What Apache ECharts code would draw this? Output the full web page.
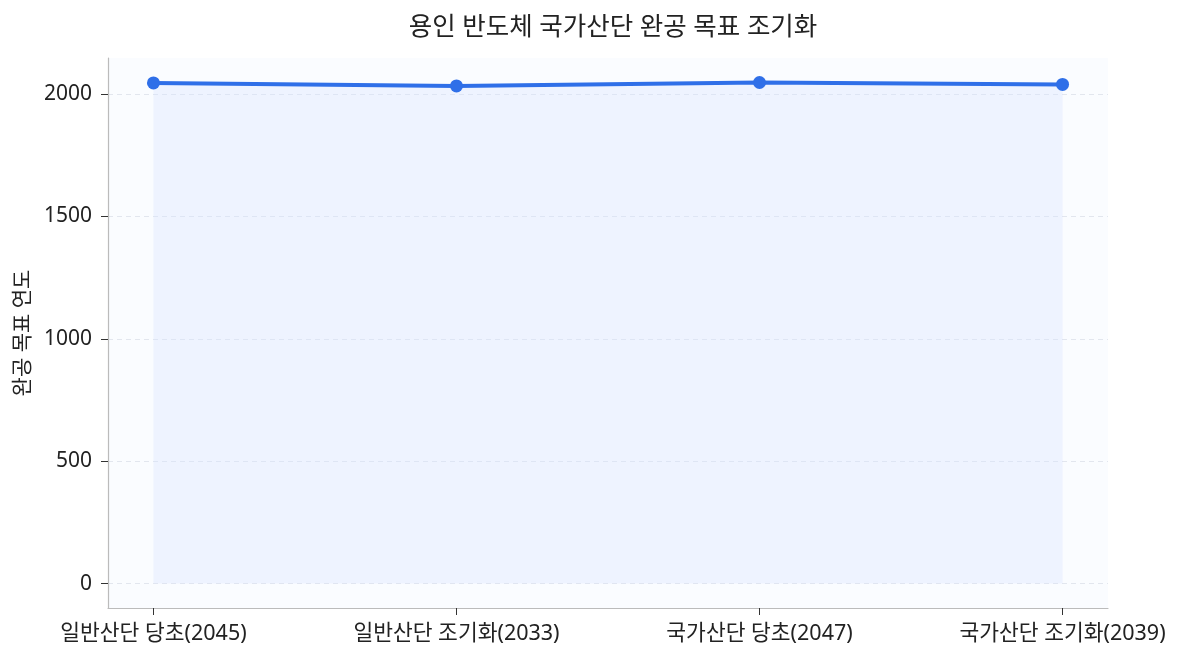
<!DOCTYPE html>
<html><head><meta charset="utf-8">
<script src="https://cdn.jsdelivr.net/npm/echarts@6/dist/echarts.min.js"></script>
<style>html,body{margin:0;padding:0;background:#fff}#c{width:1181px;height:660px}</style>
</head><body><div id="c"></div>
<script>
const categories = ['일반산단 당초(2045)', '일반산단 조기화(2033)', '국가산단 당초(2047)', '국가산단 조기화(2039)'];
const values = [2045, 2033, 2047, 2039];
const yTicks = [0, 500, 1000, 1500, 2000];
const title = '용인 반도체 국가산단 완공 목표 조기화';
const yName = '완공 목표 연도';

const font = '"Noto Sans", "Noto Sans CJK KR", sans-serif';
const idx = categories.map((_, i) => i);
const chart = echarts.init(document.getElementById('c'));
chart.setOption({
  animation: false,
  backgroundColor: '#ffffff',
  title: { text: title, left: 608, textAlign: 'center', top: 10, textStyle: { fontFamily: font, fontSize: 25.5, fontWeight: 'normal', color: '#222' } },
  grid: { left: 108, right: 73, top: 58, bottom: 52, show: true, backgroundColor: '#fafcff', borderWidth: 0 },
  xAxis: {
    type: 'value', min: -0.15, max: idx.length - 1 + 0.15,
    axisLine: { show: true, onZero: false, lineStyle: { color: '#bbbbbb', width: 1.2 } },
    axisTick: { show: true, customValues: idx, length: 7, lineStyle: { color: '#333' } },
    axisLabel: { customValues: idx, formatter: v => categories[Math.round(v)] || '', fontFamily: font, fontSize: 21.5, color: '#222', margin: 15 },
    splitLine: { show: false }
  },
  yAxis: {
    type: 'value', min: -100, max: 2147,
    name: yName, nameLocation: 'middle', nameGap: 72, nameRotate: 90,
    nameTextStyle: { fontFamily: font, fontSize: 21, color: '#222' },
    axisLine: { show: true, onZero: false, lineStyle: { color: '#bbbbbb', width: 1.2 } },
    axisTick: { show: true, customValues: yTicks, length: 7, lineStyle: { color: '#333' } },
    axisLabel: { customValues: yTicks, formatter: v => String(v), fontFamily: font, fontSize: 21, color: '#222', margin: 16 },
    splitLine: { show: true, lineStyle: { color: '#e2e6ee', type: [5, 4], width: 1 } }
  },
  series: [{
    type: 'line',
    data: idx.map(i => [i, values[i]]),
    symbol: 'circle', symbolSize: 13,
    itemStyle: { color: '#2f6fe8' },
    lineStyle: { color: '#2f6fe8', width: 4 },
    areaStyle: { color: 'rgba(214,228,255,0.5)', origin: 0 },
    z: 3
  }]
});
</script></body></html>
